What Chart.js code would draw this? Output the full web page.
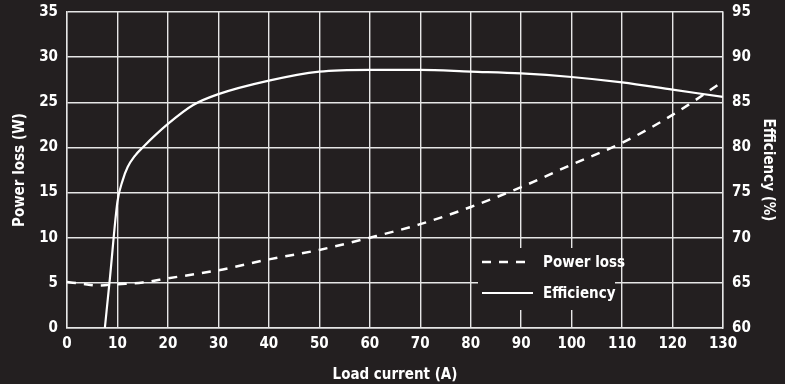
<!DOCTYPE html>
<html>
<head>
<meta charset="utf-8">
<script src="https://cdn.jsdelivr.net/npm/chart.js@4/dist/chart.umd.min.js"></script>
<style>
  html, body { margin: 0; padding: 0; background: #231f20; }
  #wrap { width: 785px; height: 384px; position: relative; }
</style>
</head>
<body>
<div id="wrap"><canvas id="chart"></canvas></div>
<script>
// Power loss (W) vs load current (A), left axis
const lossCurrent = [0, 3, 6, 10, 15, 20, 30, 40, 50, 60, 70, 80, 90, 100, 110, 120, 130];
const lossWatts   = [5.1, 4.9, 4.7, 4.85, 5.05, 5.5, 6.4, 7.6, 8.65, 10, 11.5, 13.4, 15.6, 18.1, 20.5, 23.6, 27.3];

// Efficiency (%) vs load current (A), right axis
const effCurrent = [7.5, 8.5, 10, 11, 12, 13.5, 15, 20, 25, 30, 40, 50, 60, 70, 80, 90, 100, 110, 120, 130];
const effPercent = [60, 65.5, 74, 76.3, 77.8, 79.1, 80, 82.6, 84.7, 85.9, 87.4, 88.4, 88.6, 88.6, 88.4, 88.2, 87.8, 87.2, 86.4, 85.6];

const seriesNames = ['Power loss', 'Efficiency'];

const BG = '#231f20';
const FG = '#ffffff';
const GRID = '#e6e6e6';
const FONT = "'Liberation Sans Narrow', 'DejaVu Sans Condensed', sans-serif";

Chart.defaults.font.family = FONT;
Chart.defaults.font.weight = 'bold';
Chart.defaults.font.size = 15;
Chart.defaults.color = FG;

// legend drawn inside the plot, on a box that hides the grid behind it
const insideLegend = {
  id: 'insideLegend',
  beforeDatasetsDraw(chart) {
    const { ctx, chartArea } = chart;
    const x0 = chartArea.right - 245;
    const y0 = chartArea.bottom - 80;
    ctx.save();
    ctx.fillStyle = BG;
    ctx.fillRect(x0, y0, 137, 62);
    ctx.font = 'bold 15px ' + FONT;
    ctx.textBaseline = 'middle';
    chart.data.datasets.forEach((ds, i) => {
      const y = y0 + 14 + i * 31;
      ctx.strokeStyle = ds.borderColor;
      ctx.lineWidth = ds.borderWidth;
      ctx.setLineDash(ds.borderDash || []);
      ctx.beginPath();
      ctx.moveTo(x0 + 4, y);
      ctx.lineTo(x0 + 55, y);
      ctx.stroke();
      ctx.setLineDash([]);
      ctx.fillStyle = FG;
      ctx.fillText(ds.label, x0 + 65, y + 1);
    });
    ctx.restore();
  }
};

// fixed axis box sizes so the plot area lands where the original has it
function fitY(width) {
  return function (scale) {
    scale.width = width;
    scale.paddingTop = 0;
    scale.paddingBottom = 0;
  };
}

new Chart(document.getElementById('chart'), {
  type: 'line',
  data: {
    datasets: [{
      label: seriesNames[0],
      data: lossCurrent.map((x, i) => ({ x: x, y: lossWatts[i] })),
      yAxisID: 'y',
      borderColor: FG,
      borderWidth: 2.5,
      borderDash: [9, 8],
      pointRadius: 0,
      cubicInterpolationMode: 'monotone',
      fill: false
    }, {
      label: seriesNames[1],
      data: effCurrent.map((x, i) => ({ x: x, y: effPercent[i] })),
      yAxisID: 'y1',
      borderColor: FG,
      borderWidth: 2.2,
      pointRadius: 0,
      cubicInterpolationMode: 'monotone',
      fill: false
    }]
  },
  options: {
    responsive: true,
    maintainAspectRatio: false,
    animation: false,
    layout: { padding: { top: 12, right: 0, bottom: 0, left: 0 } },
    plugins: {
      legend: { display: false },
      tooltip: { enabled: false }
    },
    scales: {
      x: {
        type: 'linear',
        min: 0, max: 130,
        ticks: { stepSize: 10, padding: 7, color: FG },
        grid: { color: GRID, lineWidth: 1.4, drawTicks: false },
        border: { color: GRID, width: 1.4 },
        title: { display: true, text: 'Load current (A)', color: FG, padding: 0 },
        afterFit(scale) { scale.height = 56; }
      },
      y: {
        position: 'left',
        min: 0, max: 35,
        ticks: { stepSize: 5, padding: 9, color: FG },
        grid: { color: GRID, lineWidth: 1.4, drawTicks: false },
        border: { color: GRID, width: 1.4 },
        title: { display: true, text: 'Power loss (W)', color: FG, padding: { top: 11, bottom: 0 } },
        afterFit: fitY(67)
      },
      y1: {
        position: 'right',
        min: 60, max: 95,
        ticks: { stepSize: 5, padding: 9, color: FG },
        grid: { drawOnChartArea: false, drawTicks: false },
        border: { color: GRID, width: 1.4 },
        title: { display: true, text: 'Efficiency (%)', color: FG, padding: { top: 8, bottom: 0 } },
        afterFit: fitY(62)
      }
    }
  },
  plugins: [insideLegend]
});
</script>
</body>
</html>
